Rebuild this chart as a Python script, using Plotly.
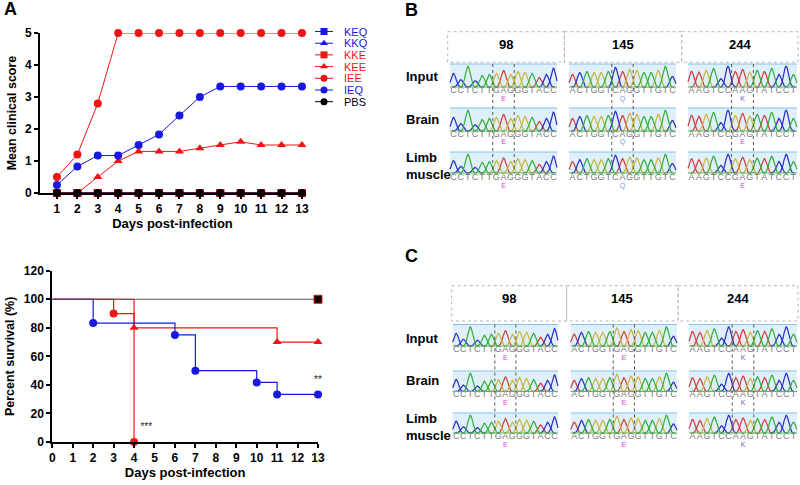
import numpy as np
import plotly.graph_objects as go

# ---------------- data: panel A, clinical score ----------------
days = [1, 2, 3, 4, 5, 6, 7, 8, 9, 10, 11, 12, 13]
score_keq = [0, 0, 0, 0, 0, 0, 0, 0, 0, 0, 0, 0, 0]
score_kkq = [0, 0, 0, 0, 0, 0, 0, 0, 0, 0, 0, 0, 0]
score_kke = [0, 0, 0, 0, 0, 0, 0, 0, 0, 0, 0, 0, 0]
score_kee = [0, 0, 0.5, 1.0, 1.3, 1.3, 1.3, 1.4, 1.5, 1.6, 1.5, 1.5, 1.5]
score_iee = [0.5, 1.2, 2.8, 5, 5, 5, 5, 5, 5, 5, 5, 5, 5]
score_ieq = [0.25, 0.83, 1.17, 1.17, 1.5, 1.83, 2.42, 3.0, 3.33, 3.33, 3.33, 3.33, 3.33]
score_pbs = [0, 0, 0, 0, 0, 0, 0, 0, 0, 0, 0, 0, 0]

# ---------------- data: panel A, survival ----------------
surv_pbs_x = [0, 13]
surv_pbs_y = [100, 100]
surv_iee_x = [0, 3, 4]
surv_iee_y = [100, 90, 0]
surv_kee_x = [0, 4, 11, 13]
surv_kee_y = [100, 80, 70, 70]
surv_ieq_x = [0, 2, 6, 7, 10, 11, 13]
surv_ieq_y = [100, 83.3, 75, 50, 41.7, 33.3, 33.3]
# significance marks (day, percent, text)
sig_x = [4.6, 13]
sig_y = [10, 43]
sig_t = ["***", "**"]

# ---------------- data: panels B and C ----------------
positions = ["98", "145", "244"]
tissues = ["Input", "Brain", "Limb<br>muscle"]
seq_b = [["CCTCTTGAGGGTACC", "CCTCTTGAGGGTACC", "CCTCTTGAGGGTACC"],
         ["ACTGGTCAGGTTGTC", "ACTGGTCAGGTTGTC", "ACTGGTCAGGTTGTC"],
         ["AAGTCCAAGTATCCT", "AAGTCCGAGTATCCT", "AAGTCCGAGTATCCT"]]
aa_b = [["E", "E", "E"], ["Q", "Q", "Q"], ["K", "E", "E"]]
seq_c = [["CCTCTTGAGGGTACC", "CCTCTTGAGGGTACC", "CCTCTTGAGGGTACC"],
         ["ACTGGTGAGGTTGTC", "ACTGGTGAGGTTGTC", "ACTGGTGAGGTTGTC"],
         ["AAGTCCAAGTATCCT", "AAGTCCAAGTATCCT", "AAGTCCAAGTATCCT"]]
aa_c = [["E", "E", "E"], ["E", "E", "E"], ["K", "K", "K"]]
# rough relative peak heights per base, one list per position column
peak_h = [[0.65, 0.35, 1.0, 0.3, 0.55, 0.6, 0.65, 0.8, 0.6, 0.75, 0.7, 0.65, 0.45, 0.6, 0.9],
          [0.6, 0.7, 0.75, 0.7, 0.7, 0.75, 0.95, 0.75, 0.85, 0.8, 0.7, 0.7, 0.8, 1.0, 0.5],
          [0.75, 0.7, 0.8, 0.9, 0.4, 1.0, 0.75, 0.85, 0.7, 0.8, 0.75, 0.9, 0.6, 1.0, 0.6]]

RED = "#f01414"
BLUE = "#1818e0"
FONT = "Liberation Sans, Arial, sans-serif"
base_colors = {"A": "#d23a3a", "C": "#2b2bc8", "G": "#c9b43a", "T": "#2fae36"}
aa_colors = {"E": "#e040e0", "Q": "#6fa6d8", "K": "#6a5ad0"}

fig = go.Figure()

# ---------- clinical score chart ----------
top_series = [
    ("KEQ", score_keq, BLUE, "square"),
    ("KKQ", score_kkq, BLUE, "triangle-up"),
    ("KKE", score_kke, RED, "square"),
    ("KEE", score_kee, RED, "triangle-up"),
    ("IEE", score_iee, RED, "circle"),
    ("IEQ", score_ieq, BLUE, "circle"),
    ("PBS", score_pbs, "black", "circle"),
]
for name, vals, color, symbol in top_series:
    fig.add_trace(go.Scatter(
        x=days, y=vals, mode="lines+markers", name=name,
        line=dict(color=color, width=1),
        marker=dict(symbol=symbol, size=8, color=color),
        cliponaxis=False, showlegend=False, xaxis="x", yaxis="y"))

# hand-made legend (overlay axis in pixel units)
leg_y0, leg_dy = 31.5, 11.7
for k, (name, vals, color, symbol) in enumerate(top_series):
    yy = leg_y0 + k * leg_dy
    fig.add_trace(go.Scatter(
        x=[315, 333], y=[yy, yy], mode="lines", line=dict(color=color, width=1),
        showlegend=False, xaxis="x3", yaxis="y3"))
    fig.add_trace(go.Scatter(
        x=[324], y=[yy], mode="markers",
        marker=dict(symbol=symbol, size=7, color=color),
        showlegend=False, xaxis="x3", yaxis="y3"))
    fig.add_annotation(x=343, y=yy, xref="x3", yref="y3", text=name, showarrow=False,
                       xanchor="left", yanchor="middle", borderpad=0,
                       font=dict(family=FONT, size=11, color=color))

# ---------- survival chart ----------
surv_series = [
    (surv_iee_x, surv_iee_y, RED, "circle", 8),
    (surv_kee_x, surv_kee_y, RED, "triangle-up", 8),
    (surv_ieq_x, surv_ieq_y, BLUE, "circle", 8),
]
for xs, ys, color, symbol, size in surv_series:
    fig.add_trace(go.Scatter(
        x=xs, y=ys, mode="lines", line=dict(color=color, width=1.2, shape="hv"),
        cliponaxis=False, showlegend=False, xaxis="x2", yaxis="y2"))
    fig.add_trace(go.Scatter(
        x=xs[1:], y=ys[1:], mode="markers",
        marker=dict(symbol=symbol, size=size, color=color),
        cliponaxis=False, showlegend=False, xaxis="x2", yaxis="y2"))
fig.add_trace(go.Scatter(
    x=surv_pbs_x, y=surv_pbs_y, mode="lines", line=dict(color="#555555", width=1.2),
    cliponaxis=False, showlegend=False, xaxis="x2", yaxis="y2"))
fig.add_trace(go.Scatter(
    x=surv_pbs_x[1:], y=surv_pbs_y[1:], mode="markers",
    marker=dict(symbol="square", size=8, color="black", line=dict(color=RED, width=1)),
    cliponaxis=False, showlegend=False, xaxis="x2", yaxis="y2"))
fig.add_trace(go.Scatter(
    x=sig_x, y=sig_y, text=sig_t, mode="text",
    textfont=dict(family=FONT, size=10, color="#222222"),
    cliponaxis=False, showlegend=False, xaxis="x2", yaxis="y2"))

# ---------- chromatogram panels ----------
panels = [
    dict(seqs=seq_b, aas=aa_b, head=(31.7, 62.3), head_x=[447.7, 564.3, 681.7, 798],
         num_y=44, rect_y=[(64, 87), (108, 131), (152, 173)],
         seq_y=[91, 134.5, 177.5], aa_y=[99, 142.5, 186], label_y=[76, 119, 166],
         col_x=[(450, 557), (569, 676), (688, 797)], title="B", title_y=10),
    dict(seqs=seq_c, aas=aa_c, head=(285.7, 321), head_x=[451.7, 566.7, 678, 798],
         num_y=298, rect_y=[(324.5, 346), (371, 391.5), (413, 433)],
         seq_y=[350, 395, 437], aa_y=[358, 403, 445.5], label_y=[338, 380, 427],
         col_x=[(452.7, 558), (570.7, 677), (689, 797)], title="C", title_y=256),
]

trace_xy = {b: ([], []) for b in "ACGT"}
letters_x, letters_y, letters_t = [], [], []
aa_x, aa_y, aa_t, aa_c_list = [], [], [], []
shapes = []
for p in panels:
    # header boxes
    hx = p["head_x"]
    for j in range(3):
        shapes.append(dict(type="rect", xref="x3", yref="y3", x0=hx[j], x1=hx[j + 1],
                           y0=p["head"][0], y1=p["head"][1],
                           line=dict(color="#b8b8b8", width=1, dash="dot")))
        fig.add_annotation(x=(hx[j] + hx[j + 1]) / 2, y=p["num_y"], xref="x3", yref="y3",
                           text=positions[j], showarrow=False,
                           font=dict(family=FONT, size=13, color="black", weight="bold"))
    for r in range(3):
        fig.add_annotation(x=404, y=p["label_y"][r], xref="x3", yref="y3", text=tissues[r],
                           showarrow=False, xanchor="left", align="left",
                           font=dict(family=FONT, size=13, color="black", weight="bold"))
    for j in range(3):
        x0, x1 = p["col_x"][j]
        step = (x1 - x0) / 15
        for r in range(3):
            ry0, ry1 = p["rect_y"][r]
            shapes.append(dict(type="rect", xref="x3", yref="y3", x0=x0, x1=x1, y0=ry0, y1=ry1,
                               fillcolor="#dff0fa", line=dict(width=0), layer="below"))
            shapes.append(dict(type="line", xref="x3", yref="y3", x0=x0, x1=x1, y0=ry0, y1=ry0,
                               line=dict(color="#86c2ea", width=1.2)))
            shapes.append(dict(type="line", xref="x3", yref="y3", x0=x0, x1=x1, y0=ry1, y1=ry1,
                               line=dict(color="#5cb85c", width=1.2)))
            seq = p["seqs"][j][r]
            hts = peak_h[j]
            amp = (ry1 - ry0) - 2
            for i, (b, h) in enumerate(zip(seq, hts)):
                c = x0 + (i + 0.5) * step
                xs = np.linspace(max(x0, c - 1.2 * step), min(x1, c + 1.2 * step), 17)
                ys = ry1 - h * amp * np.exp(-0.5 * ((xs - c) / (0.33 * step)) ** 2)
                trace_xy[b][0].extend(list(xs) + [None])
                trace_xy[b][1].extend(list(ys) + [None])
                letters_x.append(c)
                letters_y.append(p["seq_y"][r])
                letters_t.append(b)
            aa_x.append(x0 + 7.5 * step)
            aa_y.append(p["aa_y"][r])
            aa_t.append(p["aas"][j][r])
            aa_c_list.append(aa_colors[p["aas"][j][r]])
        # dotted codon boundaries
        for k in (6, 9):
            shapes.append(dict(type="line", xref="x3", yref="y3",
                               x0=x0 + k * step, x1=x0 + k * step,
                               y0=p["rect_y"][0][0], y1=p["rect_y"][2][1],
                               line=dict(color="#555555", width=1, dash="dot")))
    fig.add_annotation(x=403, y=p["title_y"], xref="x3", yref="y3", text=p["title"],
                       showarrow=False, xanchor="left",
                       font=dict(family=FONT, size=18, color="black", weight="bold"))

for b in "ACGT":
    fig.add_trace(go.Scatter(x=trace_xy[b][0], y=trace_xy[b][1], mode="lines",
                             line=dict(color=base_colors[b], width=1.2),
                             showlegend=False, xaxis="x3", yaxis="y3"))
fig.add_trace(go.Scatter(x=letters_x, y=letters_y, text=letters_t, mode="text",
                         textfont=dict(family=FONT, size=9, color="#7a7a7a"),
                         showlegend=False, xaxis="x3", yaxis="y3"))
fig.add_trace(go.Scatter(x=aa_x, y=aa_y, text=aa_t, mode="text",
                         textfont=dict(family=FONT, size=7, color=aa_c_list),
                         showlegend=False, xaxis="x3", yaxis="y3"))

fig.add_annotation(x=2, y=9, xref="x3", yref="y3", text="A", showarrow=False,
                   xanchor="left", font=dict(family=FONT, size=18, color="black", weight="bold"))

axis_common = dict(showgrid=False, zeroline=False, showline=True, linecolor="black",
                   linewidth=2, ticks="outside", ticklen=4, tickwidth=2, tickcolor="black",
                   automargin=False,
                   tickfont=dict(family=FONT, size=12, color="black", weight="bold"))
title_font = dict(family=FONT, size=13, color="black", weight="bold")

fig.update_layout(
    width=800, height=485, autosize=False, margin=dict(l=0, r=0, t=0, b=0, pad=0),
    paper_bgcolor="white", plot_bgcolor="rgba(0,0,0,0)", showlegend=False,
    shapes=shapes,
    xaxis=dict(domain=[40 / 800, 305 / 800], range=[0.17, 13.15], tickvals=days,
               anchor="y", title=dict(text="Days post-infection", font=title_font, standoff=3),
               **axis_common),
    yaxis=dict(domain=[1 - 193 / 485, 1 - 33 / 485], range=[0, 5], dtick=1, anchor="x",
               title=dict(text="Mean clinical score", font=dict(family=FONT, size=12.5,
                          color="black", weight="bold"), standoff=6),
               **axis_common),
    xaxis2=dict(domain=[52.3 / 800, 318 / 800], range=[0, 13], dtick=1, anchor="y2",
                title=dict(text="Days post-infection", font=title_font, standoff=3),
                **axis_common),
    yaxis2=dict(domain=[1 - 442 / 485, 1 - 270.7 / 485], range=[0, 120], dtick=20,
                anchor="x2",
                title=dict(text="Percent survival (%)", font=dict(family=FONT, size=12.5,
                           color="black", weight="bold"), standoff=6),
                **axis_common),
    xaxis3=dict(domain=[0, 1], range=[0, 800], visible=False, anchor="y3", fixedrange=True),
    yaxis3=dict(domain=[0, 1], range=[485, 0], visible=False, anchor="x3", fixedrange=True),
)

fig.write_html("out.html", config={"displayModeBar": False},
               post_script="document.body.style.margin='0';")
